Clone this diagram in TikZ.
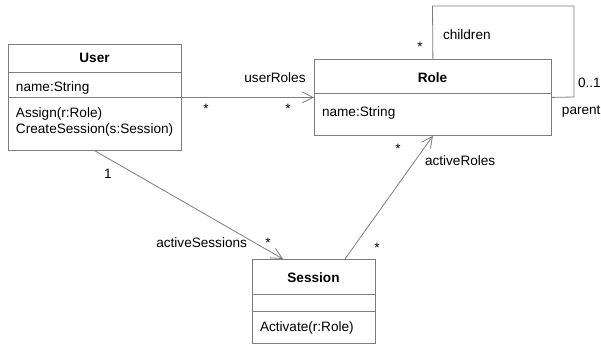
\documentclass[tikz,border=0pt]{standalone}
\usepackage{fontspec}
\setmainfont{Liberation Sans}
\usetikzlibrary{arrows.meta,calc}
\definecolor{linegray}{RGB}{125,125,125}
\begin{document}
\begin{tikzpicture}[x=1pt,y=-1pt,
  font=\fontsize{13.6}{16}\selectfont,
  classbox/.style={draw=linegray,line width=0.8pt,fill=white,rectangle,inner sep=0pt,anchor=north west},
  sepline/.style={draw=linegray,line width=0.8pt},
  conn/.style={draw=linegray,line width=0.8pt},
  openarrow/.style={-{Straight Barb[length=11pt,width=11pt,line width=0.8pt]}},
  lbl/.style={inner sep=0pt,outer sep=0pt},
  ]
\useasboundingbox (0,0) rectangle (601,346);
% User class
\node[classbox,minimum width=173pt,minimum height=106pt] (user) at (8,44) {};
\draw[sepline] (8,72) -- (181,72);
\draw[sepline] (8,97) -- (181,97);
\node[lbl,anchor=base,font=\fontsize{13.6}{16}\selectfont\bfseries] (usert) at (94.5,62) {User};
\node[lbl,anchor=base west] (usera) at (16,91.5) {name:String};
\node[lbl,anchor=base west] (usero1) at (16,117) {Assign(r:Role)};
\node[lbl,anchor=base west] (usero2) at (16,133) {CreateSession(s:Session)};
% Role class
\node[classbox,minimum width=237pt,minimum height=76pt] (role) at (314,59) {};
\draw[sepline] (314,93) -- (551,93);
\node[lbl,anchor=base,font=\fontsize{13.6}{16}\selectfont\bfseries] (rolet) at (432.5,82) {Role};
\node[lbl,anchor=base west] (rolea) at (322,116) {name:String};
% Session class
\node[classbox,minimum width=123pt,minimum height=84pt] (session) at (252,259) {};
\draw[sepline] (252,294) -- (375,294);
\draw[sepline] (252,311) -- (375,311);
\node[lbl,anchor=base,font=\fontsize{13.6}{16}\selectfont\bfseries] (sesst) at (313.5,282) {Session};
\node[lbl,anchor=base west] (sesso) at (260,331) {Activate(r:Role)};
% connectors
\coordinate (sessin) at ($(session.north west)+(31,0)$);
\coordinate (sessout) at ($(session.north west)+(93,0)$);
\draw[conn,openarrow] (user.east) -- (role.west);
\draw[conn,openarrow] (user.south) -- (sessin);
\draw[conn,openarrow] (sessout) -- (role.south);
\coordinate (loopa) at (432.5,6);
\coordinate (loopb) at (574,6);
\coordinate (loopc) at (574,97);
\draw[conn] (role.north) -- (loopa) -- (loopb) -- (loopc) -- (role.east);
% labels
\node[lbl,anchor=base] (l1) at (275,82) {userRoles};
\node[lbl,anchor=base] (l2) at (206,113) {*};
\node[lbl,anchor=base] (l3) at (288,113) {*};
\node[lbl,anchor=base west] (l4) at (443,39) {children};
\node[lbl,anchor=base] (l5) at (420,51) {*};
\node[lbl,anchor=base west] (l6) at (578,87) {0..1};
\node[lbl,anchor=base east] (l7) at (600.5,114) {parent};
\node[lbl,anchor=base] (l8) at (398,153) {*};
\node[lbl,anchor=base west] (l9) at (425,165) {activeRoles};
\node[lbl,anchor=base] (l10) at (377,252) {*};
\node[lbl,anchor=base] (l11) at (108,178) {1};
\node[lbl,anchor=base east] (l12) at (247,247) {activeSessions};
\node[lbl,anchor=base] (l13) at (268,247) {*};
\end{tikzpicture}
\end{document}
